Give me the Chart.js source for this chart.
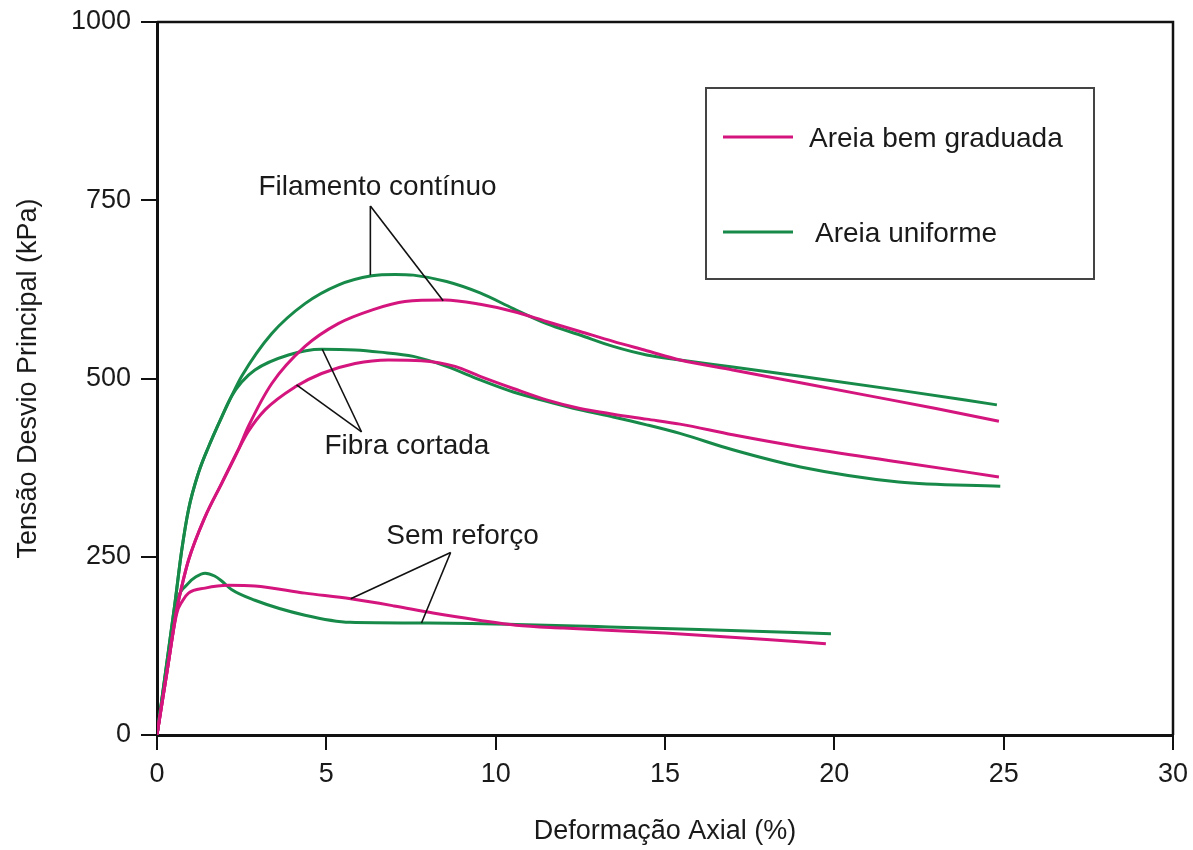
<!DOCTYPE html>
<html>
<head>
<meta charset="utf-8">
<script src="https://cdn.jsdelivr.net/npm/chart.js@4.4.0/dist/chart.umd.min.js"></script>
<style>
  html, body { margin: 0; padding: 0; background: #fff; }
  #wrap { width: 1193px; height: 850px; position: relative; }
</style>
</head>
<body>
<div id="wrap"><canvas id="Tensao-Chart"></canvas></div>
<script>
const seriesNames = ["Areia bem graduada", "Areia uniforme"];
const seriesColors = ["#D4157D", "#178A49"];
const xTicks = [0, 5, 10, 15, 20, 25, 30];
const yTicks = [0, 250, 500, 750, 1000];

// Areia bem graduada
const bemFilamentoX = [0, 0.3, 0.58, 0.73, 0.93, 1.42, 1.91, 2.4, 2.7, 3.39, 4.37, 5.35, 6.34, 7.32, 8.5, 9.54, 10.52, 11.5, 12.49, 13.47, 14.46, 15.44, 17, 19, 21, 23, 24.86];
const bemFilamentoY = [0, 90, 175, 208, 245, 306, 353, 400, 433, 493, 545, 577, 596, 608, 610, 604, 594, 580, 566, 552, 539, 526, 512, 494, 476, 458, 440];
const bemFibraX = [0, 0.3, 0.58, 0.73, 0.93, 1.42, 1.91, 2.4, 2.7, 3.19, 4.07, 4.86, 5.85, 6.83, 7.81, 8.8, 9.54, 10.52, 11.5, 12.49, 13.47, 14.46, 15.44, 17, 19, 21.9, 24.86];
const bemFibraY = [0, 90, 175, 208, 245, 306, 353, 400, 426, 456, 488, 507, 521, 526, 525, 517, 503, 486, 470, 458, 450, 443, 436, 421, 404, 383, 362];
const bemSemX = [0, 0.3, 0.58, 0.75, 0.93, 1.42, 2.1, 2.89, 4.37, 5.72, 7, 8.15, 9.5, 10.6, 12, 15, 18, 19.75];
const bemSemY = [0, 90, 170, 188, 199, 206, 210, 209, 199, 191, 181, 171, 161, 154, 150, 143, 134, 128];

// Areia uniforme
const uniFilamentoX = [0, 0.3, 0.53, 0.73, 0.93, 1.22, 1.52, 1.91, 2.2, 2.5, 3.39, 4.37, 5.35, 6.34, 7.03, 7.57, 8.55, 9.54, 10.52, 11.5, 12.49, 13.47, 14.46, 15.44, 17, 19, 22, 24.8];
const uniFilamentoY = [0, 105, 185, 259, 316, 367, 404, 446, 475, 503, 563, 605, 631, 644, 646, 645, 636, 620, 598, 577, 561, 545, 533, 526, 516, 503, 483, 463];
const uniFibraX = [0, 0.3, 0.53, 0.73, 0.93, 1.22, 1.52, 1.91, 2.2, 2.5, 2.89, 3.88, 4.86, 5.85, 6.58, 7.57, 8.55, 9.54, 10.52, 11.5, 12.49, 13.47, 14.46, 15.44, 17, 19, 21.9, 24.9];
const uniFibraY = [0, 105, 185, 259, 316, 367, 404, 446, 475, 495, 512, 533, 541, 540, 537, 531, 517, 498, 481, 468, 456, 446, 435, 423, 400, 376, 355, 349];
const uniSemX = [0, 0.3, 0.58, 0.93, 1.15, 1.42, 1.7, 1.91, 2.2, 2.89, 4.37, 5.7, 8, 10.6, 13, 16, 19.9];
const uniSemY = [0, 100, 185, 213, 222, 227, 223, 216, 204, 189, 168, 158, 157, 155, 152, 148, 142];

// leader-line labels, in axis units
const notes = [
  { text: "Filamento contínuo", at: [6.51, 768], apex: [6.3, 742], ends: [[6.3, 645], [8.45, 609]] },
  { text: "Fibra cortada", at: [7.38, 405], apex: [6.04, 425], ends: [[4.88, 541], [4.12, 491]] },
  { text: "Sem reforço", at: [9.02, 279], apex: [8.67, 256], ends: [[5.72, 191], [7.81, 157]] }
];

const FONT = '"Liberation Sans", Arial, Helvetica, sans-serif';

function pts(xs, ys) {
  return xs.map((x, i) => ({ x: x, y: ys[i] }));
}

function curve(xs, ys, k) {
  return {
    label: seriesNames[k],
    data: pts(xs, ys),
    borderColor: seriesColors[k],
    borderWidth: 3,
    pointRadius: 0,
    fill: false,
    cubicInterpolationMode: "monotone"
  };
}

const notesPlugin = {
  id: "notes",
  afterDatasetsDraw(chart) {
    const ctx = chart.ctx;
    const xs = chart.scales.x, ys = chart.scales.y;
    const px = p => [xs.getPixelForValue(p[0]), ys.getPixelForValue(p[1])];
    ctx.save();
    // top and right frame
    const a = chart.chartArea;
    ctx.strokeStyle = "#111";
    ctx.lineWidth = 2.5;
    ctx.beginPath();
    ctx.moveTo(a.left, a.top);
    ctx.lineTo(a.right, a.top);
    ctx.lineTo(a.right, a.bottom);
    ctx.stroke();

    ctx.font = "28px " + FONT;
    ctx.fillStyle = "#1a1a1a";
    ctx.textAlign = "center";
    ctx.textBaseline = "middle";
    ctx.lineWidth = 1.6;
    notes.forEach(n => {
      const t = px(n.at), ap = px(n.apex);
      ctx.fillText(n.text, t[0], t[1]);
      n.ends.forEach(e => {
        const p = px(e);
        ctx.beginPath();
        ctx.moveTo(ap[0], ap[1]);
        ctx.lineTo(p[0], p[1]);
        ctx.stroke();
      });
    });

    // legend box
    const bx = a.left + 549, by = a.top + 66;
    ctx.strokeStyle = "#444";
    ctx.lineWidth = 2;
    ctx.strokeRect(bx, by, 388, 191);
    ctx.textAlign = "left";
    const rows = [{ dy: 49, tx: 86 }, { dy: 144, tx: 92 }];
    rows.forEach((r, i) => {
      ctx.strokeStyle = seriesColors[i];
      ctx.lineWidth = 3;
      ctx.beginPath();
      ctx.moveTo(bx + 17, by + r.dy);
      ctx.lineTo(bx + 87, by + r.dy);
      ctx.stroke();
      ctx.fillText(seriesNames[i], bx + 17 + r.tx, by + r.dy + 2);
    });
    ctx.restore();
  }
};

const config = {
  type: "line",
  data: {
    datasets: [
      curve(bemFilamentoX, bemFilamentoY, 0),
      curve(bemFibraX, bemFibraY, 0),
      curve(bemSemX, bemSemY, 0),
      curve(uniFilamentoX, uniFilamentoY, 1),
      curve(uniFibraX, uniFibraY, 1),
      curve(uniSemX, uniSemY, 1)
    ]
  },
  options: {
    responsive: true,
    maintainAspectRatio: false,
    animation: false,
    layout: { padding: { top: 22, right: 20, left: 0, bottom: 0 } },
    plugins: {
      legend: { display: false },
      tooltip: { enabled: false }
    },
    scales: {
      x: {
        type: "linear",
        min: 0,
        max: 30,
        afterBuildTicks: s => { s.ticks = xTicks.map(v => ({ value: v })); },
        afterFit: s => { s.height = 115; s.paddingLeft = 0; s.paddingRight = 0; },
        grid: { drawOnChartArea: false, drawTicks: true, tickLength: 15, color: "#111", lineWidth: 2 },
        border: { display: true, color: "#111", width: 3 },
        ticks: { color: "#1a1a1a", font: { family: FONT, size: 27 }, padding: 8, maxRotation: 0, callback: v => String(v) },
        title: { display: true, text: "Deformação Axial (%)", color: "#1a1a1a", font: { family: FONT, size: 27 }, padding: { top: 0, bottom: 2 } }
      },
      y: {
        type: "linear",
        min: 0,
        max: 1000,
        afterBuildTicks: s => { s.ticks = yTicks.map(v => ({ value: v })); },
        afterFit: s => { s.width = 157; s.paddingTop = 0; s.paddingBottom = 0; },
        grid: { drawOnChartArea: false, drawTicks: true, tickLength: 16, color: "#111", lineWidth: 2 },
        border: { display: true, color: "#111", width: 3 },
        ticks: { color: "#1a1a1a", font: { family: FONT, size: 27 }, padding: 10, callback: v => String(v) },
        title: { display: true, text: "Tensão Desvio Principal (kPa)", color: "#1a1a1a", font: { family: FONT, size: 27 }, padding: { top: 12, bottom: 0 } }
      }
    }
  },
  plugins: [notesPlugin]
};

let myChart = new Chart(document.getElementById("Tensao-Chart"), config);
</script>
</body>
</html>
